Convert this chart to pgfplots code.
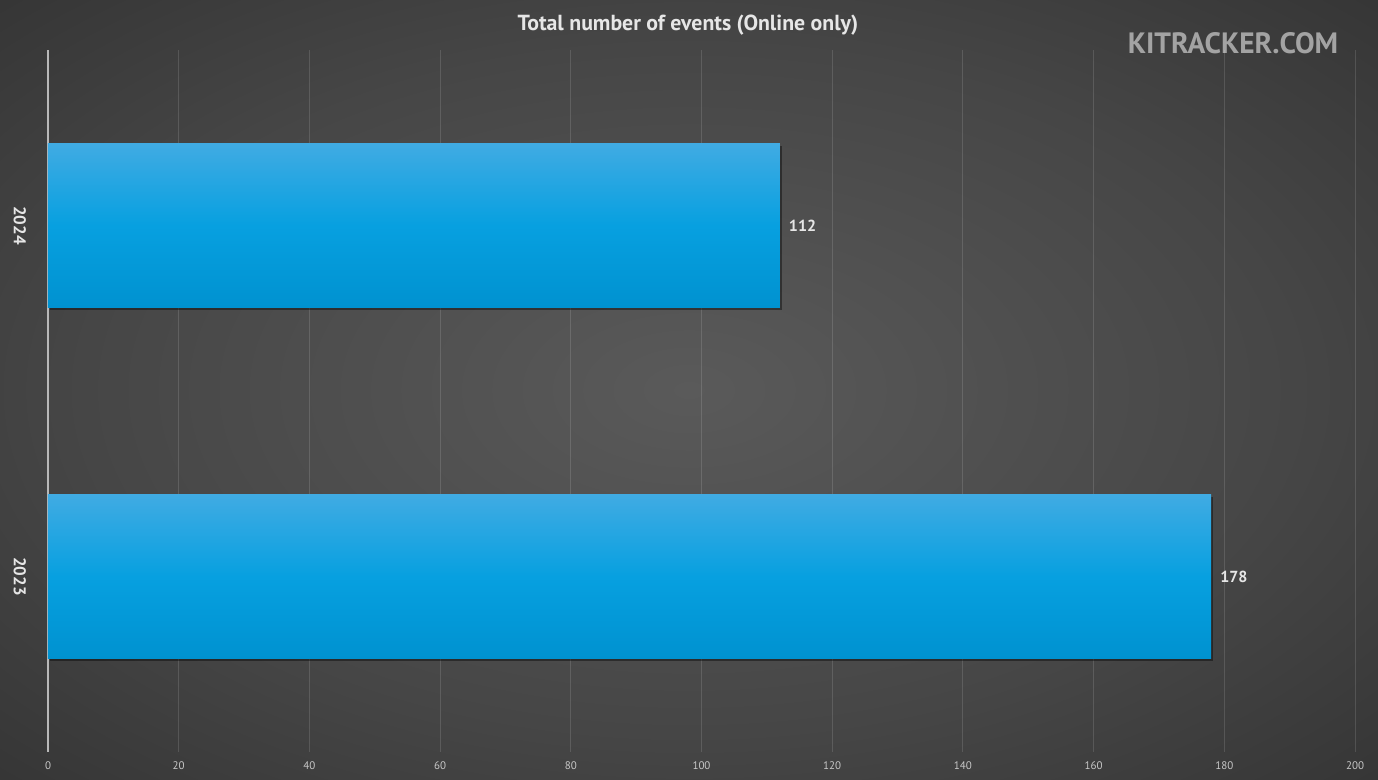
\documentclass[border=0pt]{standalone}
\usepackage{pgfplots}
\pgfplotsset{compat=1.18}
\usepackage{fontspec}
\setmainfont{PT Sans}

\definecolor{bgin}{HTML}{5A5A5A}
\definecolor{bgmid}{HTML}{464646}
\definecolor{bgout}{HTML}{242424}
\definecolor{bartop}{HTML}{40ABE3}
\definecolor{barmid}{HTML}{07A0E0}
\definecolor{barbot}{HTML}{0092D0}
\definecolor{ticktext}{HTML}{C8C8C8}
\definecolor{labeltext}{HTML}{E6E6E6}

\pgfdeclareradialshading{chartbg}{\pgfpoint{0bp}{0bp}}{%
  color(0bp)=(bgin); color(22bp)=(bgmid); color(50bp)=(bgout)}

\begin{document}
\begin{tikzpicture}[x=1pt,y=1pt]
  % background, 1 px = 0.5 pt
  \shade[shading=chartbg] (0,0) rectangle (689,390);
  \useasboundingbox (0,0) rectangle (689,390);

  \node[font=\bfseries\fontsize{10.9}{12}\selectfont, text=labeltext] at (344,377.5)
    {Total number of events (Online only)};
  \node[font=\bfseries\fontsize{14.7}{16}\selectfont, text=gray!72] at (616.5,368.5)
    {KITRACKER.COM};

  \begin{axis}[
    at={(24pt,14pt)}, anchor=south west,
    scale only axis,
    width=653.5pt, height=351pt,
    xbar, bar width=82pt, bar shift=0pt,
    xmin=0, xmax=200,
    ymin=-0.5, ymax=1.5,
    xtick={0,20,...,200},
    ytick={0,1},
    yticklabels={2023,2024},
    major tick length=0pt,
    axis lines*=left,
    x axis line style={draw=none},
    y axis line style={draw=white!72!black, line width=1pt},
    xmajorgrids,
    major grid style={draw=white, opacity=0.13, line width=0.5pt},
    /pgf/number format/assume math mode=true,
    xticklabel style={font=\fontsize{5.5}{6}\selectfont, text=ticktext, yshift=-1.5pt},
    yticklabel style={font=\bfseries\fontsize{8.5}{10}\selectfont, text=labeltext,
      rotate=-90, anchor=north, yshift=-7.5pt},
    nodes near coords,
    every node near coord/.append style={font=\bfseries\fontsize{8}{9}\selectfont,
      text=labeltext, anchor=west, xshift=1pt},
    bar/.style={draw=none, top color=bartop, bottom color=barbot, middle color=barmid},
    shadow/.style={forget plot, draw=none, fill=black, fill opacity=0.4,
      xshift=1pt, yshift=-1.5pt, nodes near coords={}},
  ]
    % shadows
    \addplot[shadow] coordinates {(112,1)};
    \addplot[shadow] coordinates {(178,0)};
    % bars, one plot each so every bar gets its own gradient
    \addplot[bar] coordinates {(112,1)};
    \addplot[bar] coordinates {(178,0)};
  \end{axis}
\end{tikzpicture}
\end{document}
